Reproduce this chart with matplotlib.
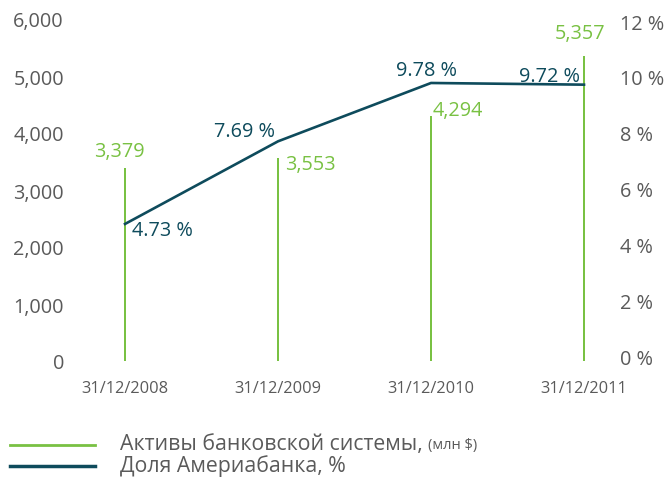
import numpy as np
import matplotlib
matplotlib.use("Agg")
import matplotlib.pyplot as plt
from matplotlib.lines import Line2D

dates = ['31/12/2008', '31/12/2009', '31/12/2010', '31/12/2011']
assets = [3379, 3553, 4294, 5357]          # млн $
share = [4.73, 7.69, 9.78, 9.72]           # %
left_ticks = [0, 1000, 2000, 3000, 4000, 5000, 6000]
right_ticks = [0, 2, 4, 6, 8, 10, 12]

GREEN = '#79c143'
TEAL = '#0e4b5c'
GREY = '#5a5a5a'

plt.rcParams['font.family'] = ['Open Sans', 'DejaVu Sans']

fig = plt.figure(figsize=(6.7, 4.81), dpi=100)
W, H = 670, 481
ax = fig.add_axes([75 / W, (H - 362) / H, (612 - 75) / W, (362 - 20) / H])
ax2 = ax.twinx()

x = np.arange(len(dates))
ax.bar(x, assets, width=0.018, color=GREEN, zorder=2)
ax2.plot(x, share, color=TEAL, lw=1.9, zorder=3)

ax.set_xlim(-0.327, 3.183)
ax.set_ylim(0, 6000)
ax2.set_ylim(-0.179, 12.072)

ax.set_xticks(x)
ax.set_xticklabels(dates)
ax.set_yticks(left_ticks)
ax.set_yticklabels([f'{v:,}' for v in left_ticks])
ax2.set_yticks(right_ticks)
ax2.set_yticklabels([f'{v} %' for v in right_ticks])

for a in (ax, ax2):
    for s in a.spines.values():
        s.set_visible(False)
    a.tick_params(length=0, colors=GREY)
ax.tick_params(axis='y', labelsize=14.3, pad=8)
ax2.tick_params(axis='y', labelsize=14.3, pad=6)
ax.tick_params(axis='x', labelsize=11.8, pad=14)

# value labels for assets
asset_fmt = [
    dict(xytext=(-4, 5), ha='center', va='bottom'),
    dict(xytext=(5, 3), ha='left', va='top'),
    dict(xytext=(1, -3), ha='left', va='bottom'),
    dict(xytext=(-3, 9), ha='center', va='bottom'),
]
for xi, v, f in zip(x, assets, asset_fmt):
    ax.annotate(f'{v:,}', (xi, v), textcoords='offset points', color=GREEN,
                fontsize=14.3, **f)

share_fmt = [
    dict(xytext=(5, -4), ha='left', va='center'),
    dict(xytext=(-2, 0), ha='right', va='bottom'),
    dict(xytext=(-3, 2), ha='center', va='bottom'),
    dict(xytext=(-3, -1), ha='right', va='bottom'),
]
for xi, v, f in zip(x, share, share_fmt):
    ax2.annotate(f'{v:.2f} %', (xi, v), textcoords='offset points', color=TEAL,
                 fontsize=14.3, **f)

# legend
fig.add_artist(Line2D([10 / W, 95 / W], [1 - 446 / H] * 2, color=GREEN, lw=2))
fig.add_artist(Line2D([10 / W, 95 / W], [1 - 467 / H] * 2, color=TEAL, lw=2.5))
t1 = fig.text(120 / W, 1 - 445 / H, 'Активы банковской системы, ', color=GREY,
              fontsize=15.3, va='center', ha='left')
fig.canvas.draw()
bb = t1.get_window_extent(fig.canvas.get_renderer())
fig.text(bb.x1 / W, 1 - 446 / H, '(млн $)', color=GREY, fontsize=10.5,
         va='center', ha='left')
fig.text(120 / W, 1 - 466 / H, 'Доля Америабанка, %', color=GREY,
         fontsize=15.3, va='center', ha='left')

fig.savefig('out.png', dpi=100)
